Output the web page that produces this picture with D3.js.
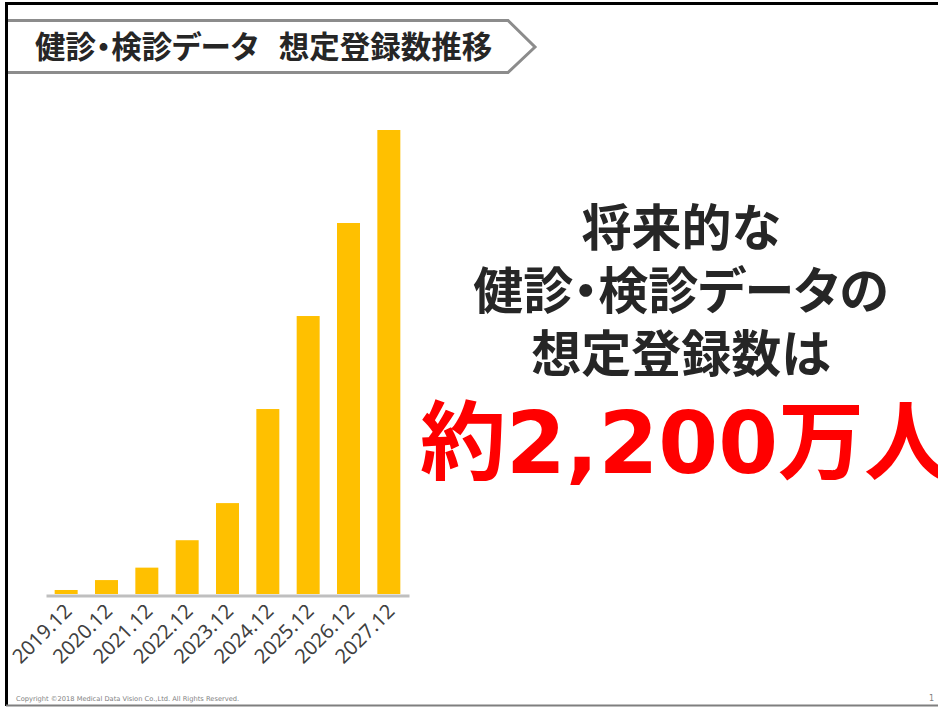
<!DOCTYPE html>
<html><head><meta charset="utf-8">
<script src="https://cdn.jsdelivr.net/npm/d3@7"></script>
<style>
html,body{margin:0;padding:0;background:#fff;}
svg{display:block;}
.palt{font-feature-settings:"palt" 1;}
</style></head>
<body>
<script>
const categories = ["2019.12","2020.12","2021.12","2022.12","2023.12","2024.12","2025.12","2026.12","2027.12"];
const values = [19, 66, 125, 255, 431, 877, 1318, 1759, 2200];
const titleParts = ["健診・検診データ　", "想定登録数推移"];
const messageLines = ["将来的な", "健診・検診データの", "想定登録数は"];
const highlightText = "約2,200万人";
const copyrightText = "Copyright ©2018 Medical Data Vision Co.,Ltd. All Rights Reserved.";
const pageNumber = "1";

const W = 938, H = 707;
const svg = d3.select("body").append("svg").attr("width", W).attr("height", H);
svg.append("rect").attr("width", W).attr("height", H).attr("fill", "#fff");

// frame
svg.append("line").attr("x1", 6).attr("x2", W).attr("y1", 3.5).attr("y2", 3.5).attr("stroke", "#000").attr("stroke-width", 3);
svg.append("line").attr("x1", 6.5).attr("x2", 6.5).attr("y1", 2).attr("y2", 706).attr("stroke", "#000").attr("stroke-width", 3);
svg.append("line").attr("x1", 6).attr("x2", W).attr("y1", 705.5).attr("y2", 705.5).attr("stroke", "#7f7f7f").attr("stroke-width", 2);

// title banner
svg.append("path")
  .attr("d", "M8,20.5 L508,20.5 L535,47 L508,72.5 L8,72.5")
  .attr("fill", "none").attr("stroke", "#8c8c8c").attr("stroke-width", 3);
const title = svg.append("text").attr("class", "palt").attr("x", 35).attr("y", 58)
  .attr("font-family", "'Noto Sans CJK JP', sans-serif").attr("font-weight", 700)
  .attr("font-size", 30.5).attr("fill", "#262626");
title.append("tspan").text(titleParts[0]);
title.append("tspan").attr("dx", -10).text(titleParts[1]);

// chart
const x = d3.scaleBand().domain(categories).range([46, 409]).paddingInner(0.43).paddingOuter(0.215);
const y = d3.scaleLinear().domain([0, 2200]).range([594, 130]);

svg.append("g").selectAll("rect").data(values).join("rect")
  .attr("x", (d, i) => x(categories[i]))
  .attr("width", x.bandwidth())
  .attr("y", d => y(d))
  .attr("height", d => y(0) - y(d))
  .attr("fill", "#FFC000");

const xAxis = svg.append("g").attr("transform", "translate(0,595.5)")
  .call(d3.axisBottom(x).tickSize(0).tickPadding(0));
xAxis.select(".domain").attr("stroke", "#bfbfbf").attr("stroke-width", 3);
xAxis.selectAll(".tick text")
  .attr("font-family", "'Noto Sans', sans-serif").attr("font-size", 20).attr("fill", "#404040")
  .attr("text-anchor", "end").attr("dy", null).attr("y", 0)
  .attr("transform", "translate(7,17) rotate(-45)");

// message
const msg = svg.append("g").attr("font-family", "'Noto Sans CJK JP', sans-serif").attr("font-weight", 700);
messageLines.forEach((t, i) => {
  msg.append("text").attr("class", "palt").attr("x", 681).attr("y", 246 + i * 63)
    .attr("text-anchor", "middle").attr("font-size", 50).attr("fill", "#262626").text(t);
});
svg.append("text").attr("x", 420).attr("y", 473)
  .attr("font-family", "'DejaVu Sans', 'Noto Sans CJK JP', sans-serif").attr("font-weight", 700)
  .attr("font-size", 86).attr("fill", "#ff0000").text(highlightText);

// footer
svg.append("text").attr("x", 16).attr("y", 701)
  .attr("font-family", "'DejaVu Sans', sans-serif").attr("font-size", 6.7).attr("fill", "#7f7f7f").text(copyrightText);
svg.append("text").attr("x", 934).attr("y", 701).attr("text-anchor", "end")
  .attr("font-family", "'DejaVu Sans', sans-serif").attr("font-size", 8).attr("fill", "#7f7f7f").text(pageNumber);
</script>
</body></html>
